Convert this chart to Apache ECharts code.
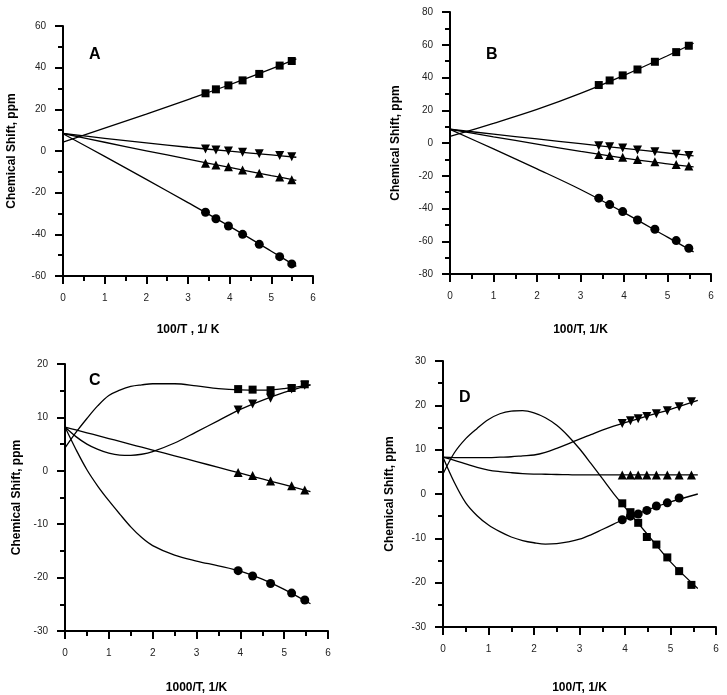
<!DOCTYPE html>
<html>
<head>
<meta charset="utf-8">
<script src="https://cdn.jsdelivr.net/npm/echarts@6/dist/echarts.min.js"></script>
<style>
  html, body { margin: 0; padding: 0; background: #fff; }
  #chart { width: 727px; height: 695px; }
</style>
</head>
<body>
<div id="chart"></div>
<script>
// measured temperatures (1000/T) for each panel
const tAB = [3.42, 3.67, 3.97, 4.31, 4.71, 5.20, 5.49];
const tC = [3.95, 4.28, 4.69, 5.17, 5.47];
const tD = [3.94, 4.12, 4.29, 4.48, 4.69, 4.93, 5.19, 5.46];

// panel A points
const aSquare = [27.7, 29.6, 31.5, 33.9, 37.0, 41.0, 43.2];
const aDown = [1.0, 0.5, 0.0, -0.6, -1.3, -2.1, -2.7];
const aUp = [-5.9, -6.7, -7.5, -9.1, -10.7, -12.5, -13.8];
const aCircle = [-29.4, -32.5, -36.0, -40.0, -44.8, -50.7, -54.2];

// panel B points
const bSquare = [35.4, 38.2, 41.3, 44.9, 49.6, 55.5, 59.4];
const bDown = [-1.7, -2.3, -3.1, -4.2, -5.4, -6.8, -7.6];
const bUp = [-7.0, -7.6, -8.7, -10.1, -11.5, -13.1, -14.0];
const bCircle = [-33.7, -37.6, -41.9, -47.0, -52.7, -59.6, -64.3];

// panel C points
const cSquare = [15.3, 15.2, 15.1, 15.5, 16.2];
const cDown = [11.4, 12.5, 13.6, 15.3, 16.0];
const cUp = [-0.3, -0.9, -1.9, -2.8, -3.6];
const cCircle = [-18.7, -19.7, -21.1, -22.9, -24.2];

// panel D points (circles only measured at the first 7 temperatures)
const dSquare = [-2.1, -4.1, -6.5, -9.7, -11.4, -14.3, -17.4, -20.5];
const dDown = [15.9, 16.5, 17.0, 17.5, 18.1, 18.8, 19.7, 20.8];
const dUp = [4.3, 4.3, 4.3, 4.3, 4.3, 4.3, 4.3, 4.3];
const dCircle = [-5.8, -5.0, -4.5, -3.7, -2.7, -2.0, -0.9];

// fitted curves
const fitAB = [0, 1, 2, 3, 4, 5, 5.6];
const aSquareFit = [4.3, 11.0, 17.7, 24.7, 31.8, 39.4, 44.2];
const aDownFit = [8.4, 6.1, 3.9, 1.8, -0.1, -1.9, -3.0];
const aUpFit = [8.4, 4.2, 0.1, -3.9, -7.9, -11.8, -14.1];
const aCircleFit = [8.3, -2.6, -13.6, -24.8, -36.2, -48.1, -55.4];
const bSquareFit = [4.0, 12.0, 20.5, 30.3, 41.3, 53.3, 60.9];
const bDownFit = [8.4, 5.4, 2.5, -0.4, -3.3, -6.1, -7.9];
const bUpFit = [8.4, 3.8, -0.7, -5.1, -9.2, -12.7, -14.6];
const bCircleFit = [8.3, -3.6, -15.8, -28.4, -42.5, -57.5, -66.5];

const fitC = [0, 0.25, 0.5, 0.75, 1, 1.25, 1.5, 1.75, 2, 2.5, 3, 3.5, 4, 4.5, 5, 5.6];
const cSquareFit = [4.3, 7.2, 9.8, 12.2, 14.1, 15.1, 15.8, 16.1, 16.3, 16.3, 15.9, 15.4, 15.15, 15.1, 15.4, 16.1];
const cDownFit = [8.2, 6.4, 5.0, 4.0, 3.3, 2.95, 2.9, 3.1, 3.6, 5.2, 7.3, 9.4, 11.5, 13.2, 14.7, 16.1];
const cUpFit = [8.2, 7.66, 7.12, 6.58, 6.04, 5.5, 4.96, 4.42, 3.88, 2.8, 1.72, 0.64, -0.44, -1.52, -2.6, -3.9];
const cCircleFit = [8.2, 4.0, 0.2, -2.9, -5.6, -8.1, -10.5, -12.5, -14.0, -15.8, -16.9, -17.8, -18.8, -20.3, -22.2, -24.9];

const fitD = [0, 0.25, 0.5, 0.75, 1, 1.25, 1.5, 1.75, 2, 2.25, 2.5, 2.75, 3, 3.25, 3.5, 3.75, 4, 4.5, 5, 5.6];
const dSquareFit = [4.5, 9.3, 12.5, 14.8, 16.8, 18.1, 18.7, 18.8, 18.3, 17.2, 15.5, 13.1, 10.2, 6.9, 3.5, 0.1, -3.0, -9.2, -15.3, -21.3];
const dDownFit = [8.3, 8.2, 8.2, 8.2, 8.2, 8.3, 8.4, 8.6, 8.8, 9.4, 10.3, 11.3, 12.4, 13.4, 14.4, 15.3, 16.1, 17.6, 19.1, 21.1];
const dUpFit = [8.3, 7.6, 6.8, 6.0, 5.4, 5.05, 4.8, 4.6, 4.5, 4.45, 4.4, 4.35, 4.3, 4.3, 4.3, 4.3, 4.3, 4.3, 4.3, 4.3];
const dCircleFit = [8.3, 2.6, -2.0, -4.9, -7.0, -8.5, -9.7, -10.5, -11.0, -11.3, -11.2, -10.8, -10.2, -9.2, -8.0, -6.8, -5.6, -3.6, -1.8, 0];

const FONT = '"Liberation Sans", Arial, sans-serif';

const panels = [
  { letter: 'A', grid: { left: 63, top: 26, width: 250, height: 250 }, yMin: -60, yMax: 60, yStep: 20,
    xName: '100/T , 1/ K', xGap: 48, yGap: 45, letterPos: [84, 42],
    t: tAB, pts: [aSquare, aDown, aUp, aCircle], fx: fitAB, fits: [aSquareFit, aDownFit, aUpFit, aCircleFit] },
  { letter: 'B', grid: { left: 450, top: 12, width: 261, height: 262 }, yMin: -80, yMax: 80, yStep: 20,
    xName: '100/T, 1/K', xGap: 50, yGap: 48, letterPos: [481, 42],
    t: tAB, pts: [bSquare, bDown, bUp, bCircle], fx: fitAB, fits: [bSquareFit, bDownFit, bUpFit, bCircleFit] },
  { letter: 'C', grid: { left: 65, top: 364, width: 263, height: 271 }, yMin: -30, yMax: 20, yStep: 10,
    xName: '1000/T, 1/K', xGap: 51, yGap: 42, letterPos: [84, 368],
    t: tC, pts: [cSquare, cDown, cUp, cCircle], fx: fitC, fits: [cSquareFit, cDownFit, cUpFit, cCircleFit] },
  { letter: 'D', grid: { left: 443, top: 361, width: 273, height: 268 }, yMin: -30, yMax: 30, yStep: 10,
    xName: '100/T, 1/K', xGap: 55, yGap: 47, letterPos: [454, 385],
    t: tD, pts: [dSquare, dDown, dUp, dCircle], fx: fitD, fits: [dSquareFit, dDownFit, dUpFit, dCircleFit] }
];

// square, down triangle, up triangle, circle
const markers = [
  { symbol: 'rect', size: 8, rotate: 0 },
  { symbol: 'triangle', size: 9, rotate: 180 },
  { symbol: 'triangle', size: 9, rotate: 0 },
  { symbol: 'circle', size: 9, rotate: 0 }
];

function zip(xs, ys) {
  return ys.map((y, i) => [xs[i], y]);
}

const axisLine = { onZero: false, lineStyle: { color: '#000', width: 2 } };
const axisTick = { length: 8, lineStyle: { color: '#000', width: 2 } };
const minorTick = { show: true, splitNumber: 2, length: 5, lineStyle: { color: '#000', width: 2 } };

const option = {
  backgroundColor: '#fff',
  animation: false,
  textStyle: { fontFamily: FONT },
  title: [],
  grid: [],
  xAxis: [],
  yAxis: [],
  series: []
};

panels.forEach((p, i) => {
  option.grid.push(p.grid);
  option.title.push({
    text: p.letter, left: p.letterPos[0], top: p.letterPos[1],
    textStyle: { fontFamily: FONT, fontSize: 16, fontWeight: 'bold', color: '#000' }
  });
  option.xAxis.push({
    type: 'value', gridIndex: i, min: 0, max: 6, interval: 1,
    name: p.xName, nameLocation: 'middle', nameGap: p.xGap,
    nameTextStyle: { fontFamily: FONT, fontSize: 12, fontWeight: 'bold', color: '#000' },
    axisLine: axisLine, axisTick: axisTick, minorTick: minorTick,
    splitLine: { show: false },
    axisLabel: { margin: 17, fontSize: 10, color: '#222', fontFamily: FONT }
  });
  option.yAxis.push({
    type: 'value', gridIndex: i, min: p.yMin, max: p.yMax, interval: p.yStep,
    name: 'Chemical Shift, ppm', nameLocation: 'middle', nameGap: p.yGap,
    nameTextStyle: { fontFamily: FONT, fontSize: 12, fontWeight: 'bold', color: '#000' },
    axisLine: axisLine, axisTick: axisTick, minorTick: minorTick,
    splitLine: { show: false },
    axisLabel: { margin: 17, fontSize: 10, color: '#222', fontFamily: FONT }
  });
  p.fits.forEach((f) => {
    option.series.push({
      type: 'line', xAxisIndex: i, yAxisIndex: i, data: zip(p.fx, f),
      smooth: 0.35, showSymbol: false, silent: true, z: 2,
      lineStyle: { color: '#000', width: 1.3 }
    });
  });
  p.pts.forEach((ys, k) => {
    option.series.push({
      type: 'scatter', xAxisIndex: i, yAxisIndex: i, data: zip(p.t, ys),
      symbol: markers[k].symbol, symbolSize: markers[k].size, symbolRotate: markers[k].rotate,
      itemStyle: { color: '#000', opacity: 1 }, z: 3
    });
  });
});

const chart = echarts.init(document.getElementById('chart'), null, { renderer: 'canvas' });
chart.setOption(option);
</script>
</body>
</html>
